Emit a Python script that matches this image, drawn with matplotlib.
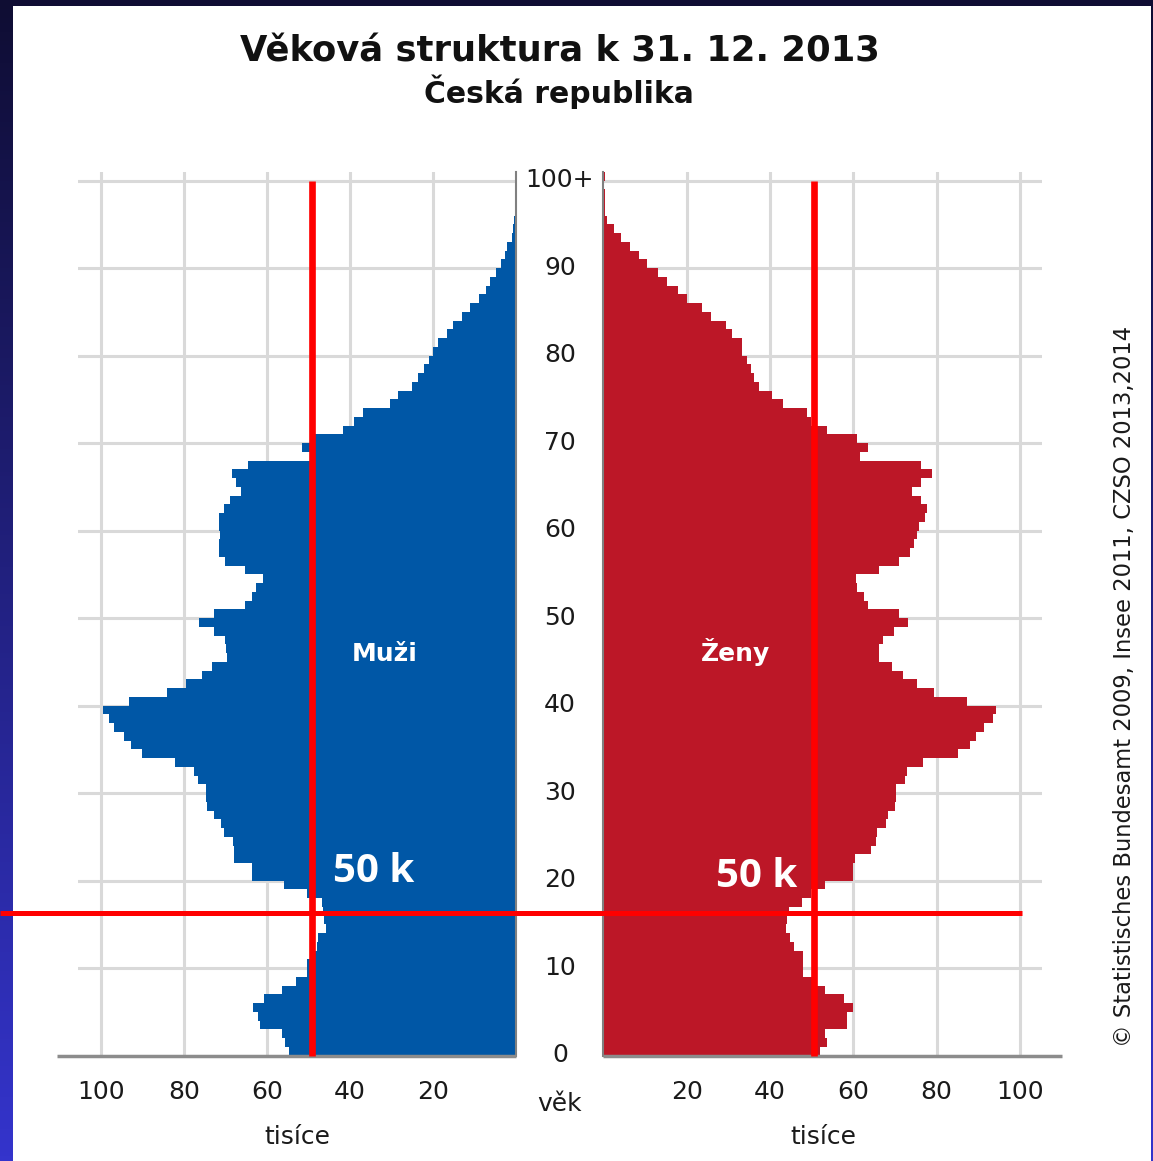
import numpy as np
import matplotlib
matplotlib.use('Agg')
import matplotlib.pyplot as plt
from matplotlib.patches import Rectangle
from matplotlib.lines import Line2D
import matplotlib.transforms as mtransforms

# ---------------- data (thousands of persons, age 0 .. 100+) ----------------
ages = list(range(101))
men = [54.6, 55.6, 56.4, 61.6, 62.0, 63.2, 60.6, 56.2, 53.0, 50.4,
       50.4, 48.4, 48.0, 47.6, 45.8, 46.3, 46.5, 46.7, 50.4, 55.8,
       63.5, 63.6, 67.9, 68.0, 68.2, 70.4, 71.0, 72.6, 74.5, 74.7,
       74.7, 76.5, 77.4, 82.1, 90.0, 92.7, 94.3, 96.8, 97.9, 99.5,
       93.2, 84.1, 79.4, 75.7, 73.1, 69.5, 69.8, 70.0, 72.6, 76.3,
       72.6, 65.2, 63.5, 62.6, 61.0, 65.2, 70.0, 71.6, 71.6, 71.2,
       71.6, 71.4, 70.4, 68.8, 66.3, 67.4, 68.4, 64.6, 49.5, 51.6,
       48.4, 41.5, 38.9, 36.7, 30.4, 28.3, 25.1, 23.6, 22.0, 21.0,
       20.0, 18.8, 16.6, 15.0, 13.0, 11.0, 8.8, 7.2, 6.2, 4.7,
       3.6, 2.6, 2.0, 1.0, 0.6, 0.3, 0.2, 0.1, 0.1, 0.05,
       0.05]
women = [52.0, 53.6, 53.2, 58.4, 58.4, 60.0, 57.8, 53.2, 51.2, 48.0,
         48.0, 48.0, 45.8, 44.8, 43.8, 44.2, 44.6, 47.8, 49.8, 53.2,
         60.0, 60.0, 60.4, 64.2, 65.4, 65.6, 67.8, 68.4, 70.0, 70.2,
         70.2, 72.4, 73.0, 76.8, 85.2, 88.0, 89.4, 91.4, 93.6, 94.2,
         87.2, 79.4, 75.2, 72.0, 69.4, 66.2, 66.2, 67.2, 69.8, 73.2,
         71.0, 63.6, 62.6, 61.0, 60.6, 66.2, 71.0, 73.6, 74.6, 75.2,
         75.8, 77.2, 77.8, 76.2, 74.2, 76.2, 79.0, 76.2, 61.6, 63.6,
         61.0, 53.6, 49.8, 49.0, 43.2, 40.5, 37.4, 36.2, 35.4, 34.6,
         33.2, 33.2, 31.0, 29.4, 25.8, 23.7, 20.0, 18.0, 15.4, 13.2,
         10.6, 8.5, 6.4, 4.2, 2.6, 1.0, 0.4, 0.3, 0.3, 0.2,
         0.5]
x_ticks = [20, 40, 60, 80, 100]
x_tick_labels = ['20', '40', '60', '80', '100']
age_ticks = [0, 10, 20, 30, 40, 50, 60, 70, 80, 90, 100]
age_labels = ['0', '10', '20', '30', '40', '50', '60', '70', '80', '90', '100+']

title = 'Věková struktura k 31. 12. 2013'
subtitle = 'Česká republika'
label_men = 'Muži'
label_women = 'Ženy'
age_axis_label = 'věk'
value_axis_label = 'tisíce'
source = '© Statistisches Bundesamt 2009, Insee 2011, CZSO 2013,2014'
marker_text = '50 k'
marker_men = 49.2
marker_women = 50.6
marker_age = 16.3

# ---------------- styling ----------------
BLUE = '#0057a6'
RED = '#bc1727'
GRID = '#d9d9d9'
W, H = 1153, 1161

fig = plt.figure(figsize=(W / 100, H / 100), dpi=100)

# background: gradient frame + white panel
bg = fig.add_axes([0, 0, 1, 1], zorder=-10)
c_top = np.array(matplotlib.colors.to_rgb('#0f0d33'))
c_bot = np.array(matplotlib.colors.to_rgb('#3434cc'))
t = np.linspace(0, 1, 256)[:, None]
grad = c_top * (1 - t) + c_bot * t
bg.imshow(grad[:, None, :], aspect='auto', extent=[0, 1, 0, 1], origin='upper')
bg.add_patch(Rectangle((13 / W, 0), (1151 - 13) / W, (H - 6) / H,
                       facecolor='white', edgecolor='none'))
bg.set_xlim(0, 1)
bg.set_ylim(0, 1)
bg.axis('off')

PX_Y0 = 1055.7
PX_PER_YR = 8.75
AGE_TOP = 101
L_ZERO, L_EDGE, L_SCALE = 515.7, 78.3, 4.15
R_ZERO, R_EDGE, R_SCALE = 603.3, 1041.7, 4.167

axL = fig.add_axes([L_EDGE / W, 1 - PX_Y0 / H, (L_ZERO - L_EDGE) / W,
                    AGE_TOP * PX_PER_YR / H])
axR = fig.add_axes([R_ZERO / W, 1 - PX_Y0 / H, (R_EDGE - R_ZERO) / W,
                    AGE_TOP * PX_PER_YR / H])
axL.set_xlim((L_ZERO - L_EDGE) / L_SCALE, 0)
axR.set_xlim(0, (R_EDGE - R_ZERO) / R_SCALE)

for ax in (axL, axR):
    ax.set_ylim(0, AGE_TOP)
    ax.patch.set_visible(False)
    for s in ax.spines.values():
        s.set_visible(False)
    ax.set_xticks([])
    ax.set_yticks([])
    for a in age_ticks[1:]:
        ax.axhline(a, color=GRID, lw=2.2, zorder=0)
    for v in x_ticks:
        ax.axvline(v, color=GRID, lw=2.2, zorder=0)
    ax.axvline(0, color='#808080', lw=1.5, zorder=3, clip_on=False)

axL.barh(ages, men, height=1, align='edge', color=BLUE, linewidth=0, zorder=2)
axR.barh(ages, women, height=1, align='edge', color=RED, linewidth=0, zorder=2)

# bottom axis lines
axL.plot([0, (L_ZERO - 57) / L_SCALE], [0, 0], color='#8c8c8c', lw=2.5,
         clip_on=False, zorder=3, solid_capstyle='butt')
axR.plot([0, (1062 - R_ZERO) / R_SCALE], [0, 0], color='#8c8c8c', lw=2.5,
         clip_on=False, zorder=3, solid_capstyle='butt')

FS = 18
# value tick labels
for ax in (axL, axR):
    tr = mtransforms.blended_transform_factory(ax.transData, fig.transFigure)
    for v, lab in zip(x_ticks, x_tick_labels):
        ax.text(v, 1 - 1099 / H, lab, transform=tr, ha='center', va='baseline',
                fontsize=FS, color='#1a1a1a', clip_on=False)

# age labels in the centre
tr_age = mtransforms.blended_transform_factory(fig.transFigure, axL.transData)
for a, lab in zip(age_ticks, age_labels):
    axL.text(560 / W, a - 0.74, lab, transform=tr_age, ha='center', va='baseline',
             fontsize=FS, color='#1a1a1a', clip_on=False)

fig.text(560 / W, 1 - 1111 / H, age_axis_label, ha='center', va='baseline',
         fontsize=FS, color='#1a1a1a')
fig.text(297 / W, 1 - 1144 / H, value_axis_label, ha='center', va='baseline',
         fontsize=FS, color='#1a1a1a')
fig.text(823 / W, 1 - 1144 / H, value_axis_label, ha='center', va='baseline',
         fontsize=FS, color='#1a1a1a')

# titles
fig.text(559.5 / W, 1 - 62 / H, title, ha='center', va='baseline',
         fontsize=25.5, fontweight='bold', color='#111111')
fig.text(559 / W, 1 - 103 / H, subtitle, ha='center', va='baseline',
         fontsize=21.5, fontweight='bold', color='#111111')

# sex labels
fig.text(385 / W, 1 - 661 / H, label_men, ha='center', va='baseline',
         fontsize=18, fontweight='bold', color='white')
fig.text(735 / W, 1 - 661 / H, label_women, ha='center', va='baseline',
         fontsize=18, fontweight='bold', color='white')

# source (rotated, reading bottom to top)
fig.text(1131 / W, 1 - 686 / H, source, rotation=90, ha='center', va='baseline',
         rotation_mode='anchor', fontsize=16.3, color='#1a1a1a')

# red annotation lines and labels
axL.plot([marker_men, marker_men], [0, 100], color='#ff0000', lw=4.8,
         zorder=5, clip_on=False, solid_capstyle='butt')
axR.plot([marker_women, marker_women], [0, 100], color='#ff0000', lw=4.8,
         zorder=5, clip_on=False, solid_capstyle='butt')
y_mark = 1 - (PX_Y0 - marker_age * PX_PER_YR) / H
fig.add_artist(Line2D([0, 1021.5 / W], [y_mark, y_mark], color='#ff0000',
                      lw=3.6, solid_capstyle='butt', zorder=20))
fig.text(333 / W, 1 - 882 / H, marker_text, ha='left', va='baseline',
         fontsize=29, fontweight='bold', color='white',
         family=['Open Sans', 'DejaVu Sans'], zorder=21)
fig.text(716 / W, 1 - 887 / H, marker_text, ha='left', va='baseline',
         fontsize=29, fontweight='bold', color='white',
         family=['Open Sans', 'DejaVu Sans'], zorder=21)

fig.savefig('out.png', dpi=100)
